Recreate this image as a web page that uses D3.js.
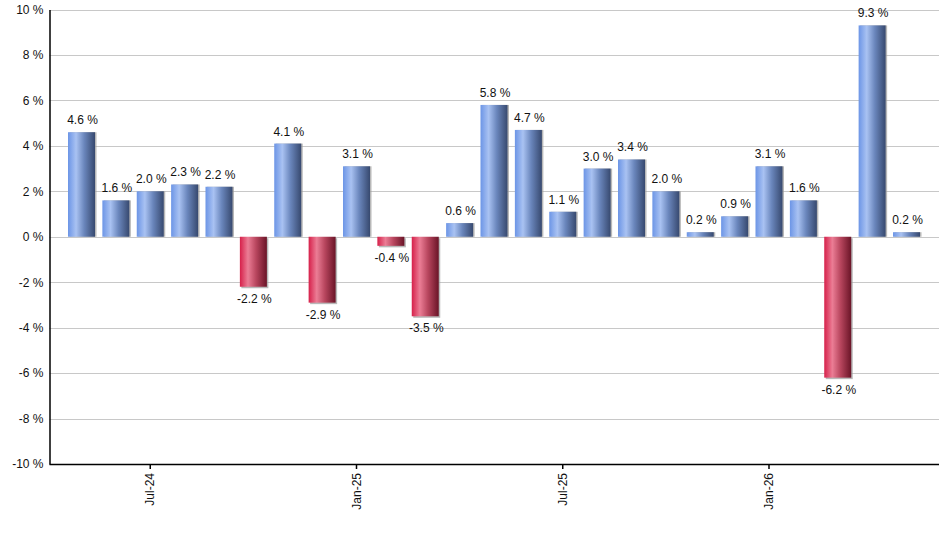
<!DOCTYPE html>
<html><head><meta charset="utf-8">
<script src="https://cdn.jsdelivr.net/npm/d3@7"></script>
<style>body{margin:0;background:#fff}svg{display:block;font-family:"Liberation Sans",Arial,sans-serif}</style>
</head><body>
<svg id="c" width="940" height="550"></svg>
<script>
const months = ["May-24","Jun-24","Jul-24","Aug-24","Sep-24","Oct-24","Nov-24","Dec-24","Jan-25","Feb-25","Mar-25","Apr-25","May-25","Jun-25","Jul-25","Aug-25","Sep-25","Oct-25","Nov-25","Dec-25","Jan-26","Feb-26","Mar-26","Apr-26","May-26"];
const values = [4.6,1.6,2.0,2.3,2.2,-2.2,4.1,-2.9,3.1,-0.4,-3.5,0.6,5.8,4.7,1.1,3.0,3.4,2.0,0.2,0.9,3.1,1.6,-6.2,9.3,0.2];
const yTicks = [-10,-8,-6,-4,-2,0,2,4,6,8,10];
const xTickLabels = ["Jul-24","Jan-25","Jul-25","Jan-26"];

(function(){
const svg = d3.select("#c");
const pL = 49.5, pR = 939, pT = 9.5, pB = 464;
const x = d3.scaleBand().domain(months).range([68, 920]).paddingInner(0.2145).paddingOuter(0);
const y = d3.scaleLinear().domain([-10, 10]).range([pB, pT]);

const defs = svg.append("defs");
function grad(id, stops){
  const g = defs.append("linearGradient").attr("id", id).attr("x1","0").attr("x2","1").attr("y1","0").attr("y2","0");
  stops.forEach(s => g.append("stop").attr("offset", s[0]).attr("stop-color", s[1]));
}
grad("gb", [[0,"#6c95e6"],[0.3,"#a9c2f2"],[0.6,"#6a86bc"],[1,"#37496f"]]);
grad("gr", [[0,"#d6204a"],[0.3,"#eb7d95"],[0.6,"#b8465e"],[1,"#6a1427"]]);

// gridlines
svg.append("g").selectAll("line").data(yTicks.filter(d => d !== -10)).join("line")
  .attr("x1", pL).attr("x2", pR)
  .attr("y1", d => Math.round(y(d)) + 0.5).attr("y2", d => Math.round(y(d)) + 0.5)
  .attr("stroke", "#c8c8c8").attr("stroke-width", 1);

// bars
const bars = svg.append("g");
values.forEach((v, i) => {
  const bx = x(months[i]), bw = x.bandwidth();
  const y0 = y(0), y1 = y(v);
  const yt = Math.min(y0, y1), h = Math.abs(y1 - y0);
  bars.append("rect").attr("x", bx + 1.5).attr("y", yt + (v < 0 ? 1.5 : 0)).attr("width", bw).attr("height", h)
    .attr("fill", "#9a9a9a").attr("opacity", 0.7);
  bars.append("rect").attr("x", bx).attr("y", yt).attr("width", bw).attr("height", h)
    .attr("fill", v < 0 ? "url(#gr)" : "url(#gb)");
  bars.append("text")
    .attr("x", bx + bw / 2 + 1)
    .attr("y", v < 0 ? y1 + 16 : y1 - 8)
    .attr("text-anchor", "middle").attr("font-size", 12).attr("fill", "#111")
    .text(v.toFixed(1) + " %");
});

// axes
const ya = svg.append("g").attr("transform", `translate(${pL},0)`)
  .call(d3.axisLeft(y).tickValues(yTicks).tickSize(0).tickPadding(6).tickFormat(d => d + " %"));
ya.select(".domain").attr("stroke", "#000").attr("stroke-width", 1.5);
ya.selectAll("text").attr("font-size", 12).attr("fill", "#111").style("font-family", '"Liberation Sans",Arial,sans-serif');

const xa = svg.append("g").attr("transform", `translate(0,${pB})`)
  .call(d3.axisBottom(x).tickValues(months.filter(m => xTickLabels.includes(m)))
    .tickSize(5).tickSizeOuter(0).tickFormat(d => d));
xa.select(".domain").attr("stroke", "#000").attr("stroke-width", 1.5).attr("d", `M${pL},0.5H${pR}`);
xa.selectAll(".tick line").attr("stroke", "#000").attr("stroke-width", 1.5);
xa.selectAll("text").attr("font-size", 12).attr("fill", "#111")
  .style("font-family", '"Liberation Sans",Arial,sans-serif')
  .attr("transform", "rotate(-90)").attr("text-anchor", "end")
  .attr("x", -9).attr("y", 0).attr("dy", "0.35em");
})();
</script>
</body></html>
